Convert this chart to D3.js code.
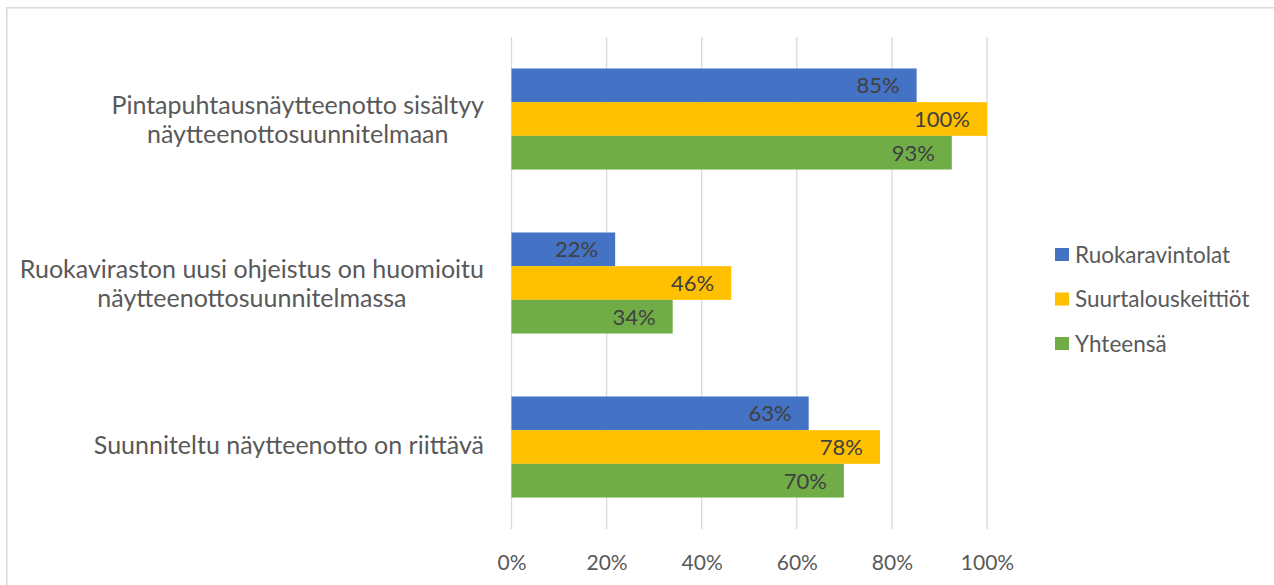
<!DOCTYPE html>
<html>
<head>
<meta charset="utf-8">
<script src="https://cdn.jsdelivr.net/npm/d3@7"></script>
<style>
  html, body { margin: 0; padding: 0; background: #fff; }
  svg { display: block; font-family: Lato, "Open Sans", sans-serif; }
</style>
</head>
<body>
<svg id="chart" width="1274" height="585"></svg>
<script>
// ---- data ----
const categories = [
  "Pintapuhtausnäytteenotto sisältyy\nnäytteenottosuunnitelmaan",
  "Ruokaviraston uusi ohjeistus on huomioitu\nnäytteenottosuunnitelmassa",
  "Suunniteltu näytteenotto on riittävä"
];
const seriesNames = ["Ruokaravintolat", "Suurtalouskeittiöt", "Yhteensä"];
const ruokaravintolat = [85.2, 21.8, 62.5];
const suurtalouskeittiot = [100, 46.2, 77.5];
const yhteensa = [92.6, 33.9, 69.9];
const xTicks = [0, 20, 40, 60, 80, 100];
const colors = ["#4472C4", "#FFC000", "#70AD47"];

const seriesValues = [ruokaravintolat, suurtalouskeittiot, yhteensa];

// ---- layout ----
const svg = d3.select("#chart");
const plot = { left: 511.5, right: 987, top: 37, bottom: 529 };

// chart border
svg.append("rect")
  .attr("x", 6.75).attr("y", 7.75)
  .attr("width", 1300).attr("height", 700)
  .attr("fill", "none").attr("stroke", "#d9d9d9").attr("stroke-width", 1.5);

const x = d3.scaleLinear().domain([0, 100]).range([plot.left, plot.right]);
const y0 = d3.scaleBand().domain(d3.range(categories.length))
  .range([plot.top, plot.bottom]).paddingInner(0.384).paddingOuter(0.192);
const y1 = d3.scaleBand().domain(d3.range(seriesNames.length))
  .range([0, y0.bandwidth()]).padding(0);

// gridlines
svg.append("g").selectAll("line").data(xTicks).join("line")
  .attr("x1", d => x(d)).attr("x2", d => x(d))
  .attr("y1", plot.top).attr("y2", plot.bottom)
  .attr("stroke", "#d9d9d9").attr("stroke-width", 1.3);

// x axis tick labels
const xAxis = d3.axisBottom(x).tickValues(xTicks).tickFormat(d => d + "%").tickSize(0).tickPadding(0);
const gx = svg.append("g").attr("transform", `translate(0,${plot.bottom + 33})`).call(xAxis);
gx.select(".domain").remove();
gx.selectAll("text").attr("fill", "#595959").attr("font-size", 21)
  .attr("font-family", "Lato, sans-serif").attr("dy", "0.36em");

// bars
const groups = svg.append("g").selectAll("g").data(categories).join("g")
  .attr("transform", (d, i) => `translate(0,${y0(i)})`);

groups.each(function(cat, ci) {
  const g = d3.select(this);
  const rows = seriesNames.map((s, si) => ({ si, v: seriesValues[si][ci] }));
  g.selectAll("rect").data(rows).join("rect")
    .attr("x", x(0)).attr("y", d => y1(d.si))
    .attr("width", d => x(d.v) - x(0)).attr("height", y1.bandwidth())
    .attr("fill", d => colors[d.si]);
  g.selectAll("text.lbl").data(rows).join("text").attr("class", "lbl")
    .attr("x", d => x(d.v) - 17).attr("y", d => y1(d.si) + y1.bandwidth() / 2)
    .attr("dy", "0.36em").attr("text-anchor", "end")
    .attr("fill", "#404040").attr("font-size", 22)
    .text(d => Math.round(d.v) + "%");
});

// category labels
const catRight = 484;
const lineH = 29;
categories.forEach((cat, ci) => {
  const lines = cat.split("\n");
  const t = svg.append("text").attr("fill", "#595959").attr("font-size", 25)
    .attr("text-anchor", "middle");
  const cy = y0(ci) + y0.bandwidth() / 2 - (lines.length === 1 ? 2 : 0);
  lines.forEach((ln, li) => {
    t.append("tspan").attr("y", cy + (li - (lines.length - 1) / 2) * lineH)
      .attr("dy", "0.36em").text(ln);
  });
  let w = 0;
  t.selectAll("tspan").each(function() { w = Math.max(w, this.getComputedTextLength()); });
  t.selectAll("tspan").attr("x", catRight - w / 2);
});

// legend
const legend = svg.append("g").selectAll("g").data(seriesNames).join("g")
  .attr("transform", (d, i) => `translate(1055,${254.5 + i * 44.5})`);
legend.append("rect").attr("x", 0).attr("y", -6.5).attr("width", 14).attr("height", 13)
  .attr("fill", (d, i) => colors[i]);
legend.append("text").attr("x", 20).attr("y", 0).attr("dy", "0.36em")
  .attr("fill", "#595959").attr("font-size", 22.5).text(d => d);
</script>
</body>
</html>
